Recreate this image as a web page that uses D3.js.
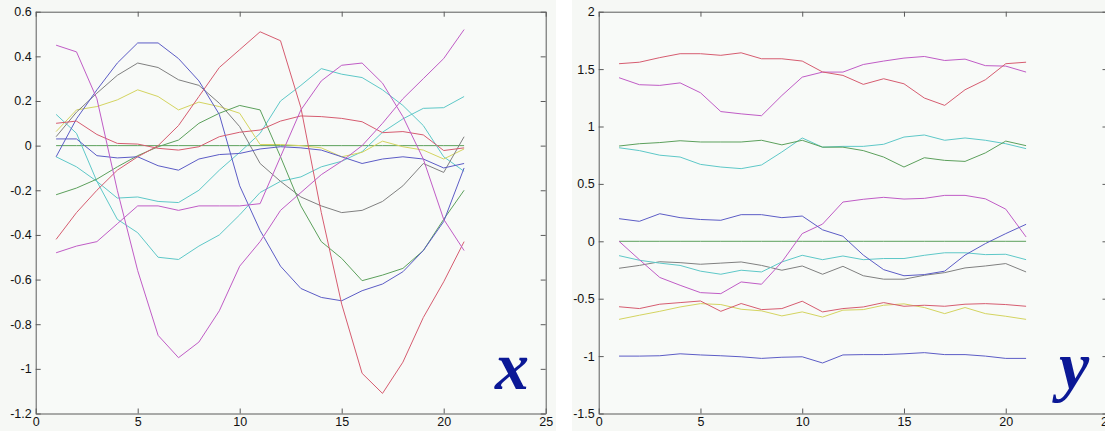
<!DOCTYPE html>
<html>
<head>
<meta charset="utf-8">
<script src="https://cdn.jsdelivr.net/npm/d3@7"></script>
<style>
  body { margin: 0; background: #ffffff; }
  svg { display: block; }
  .tick text { font-family: 'Liberation Sans', Arial, sans-serif; font-size: 12.5px; fill: #111; }
</style>
</head>
<body>
<svg id="chart" width="1105" height="431"></svg>
<script>
// sample index along the x axis
const steps = d3.range(1, 22);

// colours of the series (matlab-like, washed out)
const colors = {
  blue: '#5c5cc6',
  red: '#d65c70',
  magenta: '#c05cc6',
  cyan: '#5ec8c8',
  green: '#5ca05c',
  yellow: '#d4d460',
  grey: '#808080'
};

// ---- left panel ("x") ----
const xMagentaA = [0.45, 0.42, 0.21, -0.2, -0.56, -0.85, -0.95, -0.88, -0.74, -0.54, -0.43, -0.29, -0.21, -0.13, -0.07, 0.0, 0.1, 0.21, 0.3, 0.39, 0.52];
const xMagentaB = [-0.48, -0.45, -0.43, -0.35, -0.27, -0.27, -0.29, -0.27, -0.27, -0.27, -0.26, -0.05, 0.16, 0.29, 0.36, 0.37, 0.28, 0.13, -0.06, -0.33, -0.47];
const xRedA = [-0.42, -0.3, -0.2, -0.11, -0.05, 0.0, 0.09, 0.22, 0.35, 0.43, 0.51, 0.47, 0.17, -0.3, -0.71, -1.02, -1.11, -0.97, -0.77, -0.61, -0.43];
const xRedB = [0.1, 0.11, 0.05, 0.01, 0.007, -0.012, -0.02, -0.005, 0.04, 0.06, 0.07, 0.11, 0.133, 0.13, 0.122, 0.107, 0.058, 0.063, 0.048, -0.022, -0.01];
const xBlueA = [-0.05, 0.12, 0.25, 0.37, 0.46, 0.46, 0.39, 0.29, 0.14, -0.18, -0.38, -0.54, -0.64, -0.68, -0.695, -0.65, -0.62, -0.565, -0.47, -0.34, -0.1];
const xBlueB = [0.03, 0.03, -0.045, -0.055, -0.05, -0.09, -0.11, -0.06, -0.04, -0.035, -0.015, -0.005, -0.01, -0.02, -0.05, -0.08, -0.06, -0.05, -0.06, -0.1, -0.08];
const xGreen = [-0.22, -0.19, -0.15, -0.095, -0.045, -0.005, 0.025, 0.1, 0.145, 0.18, 0.16, -0.05, -0.27, -0.43, -0.505, -0.605, -0.58, -0.55, -0.47, -0.33, -0.2];
const xGrey = [0.04, 0.15, 0.235, 0.315, 0.37, 0.35, 0.295, 0.27, 0.19, 0.085, -0.08, -0.16, -0.23, -0.27, -0.3, -0.29, -0.25, -0.18, -0.08, -0.12, 0.04];
const xYellow = [0.063, 0.16, 0.175, 0.205, 0.25, 0.22, 0.16, 0.195, 0.175, 0.145, 0.005, 0.005, 0.0, -0.01, -0.05, -0.03, 0.02, -0.005, -0.02, -0.06, -0.015];
const xCyanA = [0.14, 0.055, -0.16, -0.33, -0.39, -0.5, -0.51, -0.45, -0.4, -0.31, -0.21, -0.16, -0.14, -0.095, -0.07, -0.027, 0.06, 0.12, 0.167, 0.17, 0.22];
const xCyanB = [-0.05, -0.095, -0.16, -0.235, -0.23, -0.25, -0.255, -0.2, -0.11, -0.03, 0.055, 0.2, 0.27, 0.345, 0.32, 0.305, 0.25, 0.18, 0.09, -0.05, -0.115];
const xZero = steps.map(() => 0);

// ---- right panel ("y") ----
const yRedA = [1.547, 1.56, 1.6, 1.634, 1.634, 1.62, 1.642, 1.59, 1.59, 1.57, 1.475, 1.445, 1.367, 1.416, 1.372, 1.248, 1.184, 1.32, 1.407, 1.547, 1.56];
const yMagentaA = [1.425, 1.364, 1.358, 1.38, 1.294, 1.13, 1.11, 1.094, 1.27, 1.43, 1.474, 1.474, 1.54, 1.57, 1.596, 1.61, 1.575, 1.587, 1.53, 1.526, 1.474];
const yGreen = [0.83, 0.85, 0.86, 0.876, 0.865, 0.865, 0.865, 0.88, 0.84, 0.88, 0.82, 0.82, 0.79, 0.734, 0.647, 0.728, 0.705, 0.696, 0.77, 0.873, 0.833];
const yCyanA = [0.815, 0.79, 0.75, 0.734, 0.67, 0.647, 0.633, 0.665, 0.778, 0.9, 0.82, 0.827, 0.827, 0.845, 0.908, 0.926, 0.88, 0.9, 0.88, 0.85, 0.807];
const yBlueA = [0.197, 0.174, 0.24, 0.206, 0.19, 0.183, 0.232, 0.232, 0.206, 0.22, 0.1, 0.044, -0.12, -0.247, -0.3, -0.29, -0.26, -0.12, -0.02, 0.067, 0.148];
const yMagentaB = [0, -0.16, -0.315, -0.383, -0.447, -0.456, -0.354, -0.374, -0.18, 0.067, 0.15, 0.342, 0.366, 0.383, 0.368, 0.374, 0.4, 0.4, 0.37, 0.28, 0.038];
const yCyanB = [-0.125, -0.165, -0.19, -0.21, -0.26, -0.287, -0.252, -0.267, -0.18, -0.122, -0.16, -0.128, -0.16, -0.15, -0.15, -0.122, -0.1, -0.1, -0.116, -0.113, -0.16];
const yGrey = [-0.235, -0.21, -0.178, -0.186, -0.2, -0.19, -0.18, -0.21, -0.252, -0.215, -0.287, -0.218, -0.3, -0.33, -0.33, -0.296, -0.273, -0.232, -0.215, -0.194, -0.267];
const yRedB = [-0.57, -0.586, -0.548, -0.534, -0.52, -0.61, -0.542, -0.595, -0.586, -0.522, -0.615, -0.586, -0.572, -0.534, -0.566, -0.557, -0.566, -0.548, -0.543, -0.551, -0.566];
const yYellow = [-0.68, -0.644, -0.61, -0.572, -0.543, -0.551, -0.592, -0.606, -0.65, -0.615, -0.66, -0.6, -0.595, -0.557, -0.545, -0.577, -0.63, -0.577, -0.63, -0.653, -0.68];
const yBlueB = [-1.0, -1.0, -0.997, -0.98, -0.99, -0.997, -1.006, -1.02, -1.01, -1.006, -1.06, -0.99, -0.987, -0.987, -0.98, -0.97, -0.987, -0.987, -1.0, -1.02, -1.02];
const yZero = steps.map(() => 0);

// tick labels
const xTicks = [0, 5, 10, 15, 20, 25];
const leftYTicks = [0.6, 0.4, 0.2, 0, -0.2, -0.4, -0.6, -0.8, -1, -1.2];
const rightYTicks = [2, 1.5, 1, 0.5, 0, -0.5, -1, -1.5];

const panels = [
  {
    label: 'x',
    box: { left: 35.7, right: 545.7, top: 11.7, bottom: 413.5 },
    yDomain: [-1.2, 0.6],
    yTicks: leftYTicks,
    series: [
      [xZero, colors.green],
      [xCyanB, colors.cyan],
      [xCyanA, colors.cyan],
      [xYellow, colors.yellow],
      [xGrey, colors.grey],
      [xGreen, colors.green],
      [xBlueB, colors.blue],
      [xBlueA, colors.blue],
      [xRedB, colors.red],
      [xRedA, colors.red],
      [xMagentaB, colors.magenta],
      [xMagentaA, colors.magenta]
    ],
    labelPos: [512, 389]
  },
  {
    label: 'y',
    box: { left: 598.7, right: 1107.5, top: 11.7, bottom: 413.5 },
    yDomain: [-1.5, 2],
    yTicks: rightYTicks,
    series: [
      [yZero, colors.green],
      [yBlueB, colors.blue],
      [yYellow, colors.yellow],
      [yRedB, colors.red],
      [yGrey, colors.grey],
      [yCyanB, colors.cyan],
      [yMagentaB, colors.magenta],
      [yBlueA, colors.blue],
      [yCyanA, colors.cyan],
      [yGreen, colors.green],
      [yMagentaA, colors.magenta],
      [yRedA, colors.red]
    ],
    labelPos: [1074, 389]
  }
];

const svg = d3.select('#chart');

// figure backgrounds (two figure windows with a white gap)
svg.append('rect').attr('x', 0).attr('y', 0).attr('width', 556).attr('height', 431).attr('fill', '#f6f8f5');
svg.append('rect').attr('x', 572).attr('y', 0).attr('width', 533).attr('height', 431).attr('fill', '#f6f8f5');

const fmt = d => String(+d.toFixed(1));

panels.forEach(p => {
  const b = p.box;
  const x = d3.scaleLinear().domain([0, 25]).range([b.left, b.right]);
  const y = d3.scaleLinear().domain(p.yDomain).range([b.bottom, b.top]);
  const g = svg.append('g');

  g.append('rect')
    .attr('x', b.left).attr('y', b.top)
    .attr('width', b.right - b.left).attr('height', b.bottom - b.top)
    .attr('fill', '#f8faf8');

  // lines
  const line = d3.line().x((d, i) => x(steps[i])).y(d => y(d));
  p.series.forEach(([vals, col]) => {
    g.append('path')
      .datum(vals)
      .attr('fill', 'none')
      .attr('stroke', col)
      .attr('stroke-width', 1)
      .attr('d', line);
  });

  // axes: ticks point inward on all four sides, like matlab
  const axisStyle = sel => {
    sel.select('.domain').attr('stroke', '#5a5a5a');
    sel.selectAll('.tick line').attr('stroke', '#5a5a5a');
  };
  g.append('g')
    .attr('transform', `translate(0,${b.bottom})`)
    .call(d3.axisBottom(x).tickValues(xTicks).tickFormat(fmt).tickSizeInner(-5).tickSizeOuter(0).tickPadding(4))
    .call(axisStyle);
  g.append('g')
    .attr('transform', `translate(0,${b.top})`)
    .call(d3.axisTop(x).tickValues(xTicks).tickFormat('').tickSizeInner(-5).tickSizeOuter(0))
    .call(axisStyle);
  g.append('g')
    .attr('transform', `translate(${b.left},0)`)
    .call(d3.axisLeft(y).tickValues(p.yTicks).tickFormat(fmt).tickSizeInner(-5).tickSizeOuter(0).tickPadding(4))
    .call(axisStyle);
  g.append('g')
    .attr('transform', `translate(${b.right},0)`)
    .call(d3.axisRight(y).tickValues(p.yTicks).tickFormat('').tickSizeInner(-5).tickSizeOuter(0))
    .call(axisStyle);

  // big italic variable name
  g.append('text')
    .attr('x', p.labelPos[0]).attr('y', p.labelPos[1])
    .attr('text-anchor', 'middle')
    .attr('font-family', "'Liberation Serif', 'Times New Roman', serif")
    .attr('font-style', 'italic')
    .attr('font-weight', 'bold')
    .attr('font-size', 68)
    .attr('fill', '#0b1896')
    .text(p.label);
});
</script>
</body>
</html>
